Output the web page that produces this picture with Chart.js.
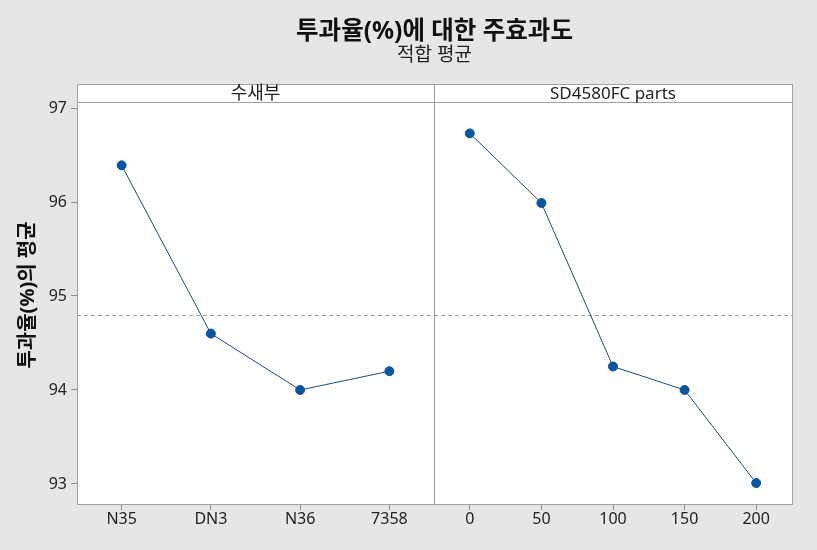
<!DOCTYPE html>
<html>
<head>
<meta charset="utf-8">
<script src="https://cdn.jsdelivr.net/npm/chart.js@4"></script>
<style>
  body { margin: 0; background: #e6e6e6; }
  #wrap { position: relative; width: 817px; height: 550px; }
  #wrap canvas { position: absolute; left: 0; top: 0; }
</style>
</head>
<body>
<div id="wrap">
  <canvas id="leftChart" width="817" height="550"></canvas>
  <canvas id="rightChart" width="817" height="550"></canvas>
</div>
<script>
const mainTitle = "투과율(%)에 대한 주효과도";
const subTitle = "적합 평균";
const yTitle = "투과율(%)의 평균";

const leftName = "수새부";
const leftLabels = ["N35", "DN3", "N36", "7358"];
const leftMeans = [96.39, 94.60, 94.00, 94.20];

const rightName = "SD4580FC parts";
const rightLabels = ["0", "50", "100", "150", "200"];
const rightMeans = [96.73, 95.99, 94.25, 94.00, 93.01];

const yTicks = [93, 94, 95, 96, 97];
const yMin = 92.787;
const yMax = 97.064;

// overall mean (dashed reference line)
const grandMean = leftMeans.reduce((a, b) => a + b, 0) / leftMeans.length;

// layout
const plotLeft = 77, divider = 434, plotRight = 792;
const plotTop = 102, plotBottom = 504, stripTop = 84;
const W = 817, H = 550;

const fontFam = '"Noto Sans", "Noto Sans CJK KR", sans-serif';
const frameColor = '#a0a0a0';
const textColor = '#222';

// white panel, strip header, dashed mean line
function panelPlugin(name, nameSize) {
    return {
        id: 'panel',
        beforeDatasetsDraw(chart) {
            const ctx = chart.ctx;
            const a = chart.chartArea;
            ctx.save();
            ctx.fillStyle = '#fff';
            ctx.fillRect(a.left, stripTop, a.right - a.left, a.bottom - stripTop);
            ctx.strokeStyle = frameColor;
            ctx.lineWidth = 1;
            ctx.strokeRect(a.left + 0.5, stripTop + 0.5, a.right - a.left, a.bottom - stripTop);
            ctx.beginPath();
            ctx.moveTo(a.left, a.top + 0.5);
            ctx.lineTo(a.right, a.top + 0.5);
            ctx.stroke();

            ctx.fillStyle = textColor;
            ctx.font = nameSize + 'px ' + fontFam;
            ctx.textAlign = 'center';
            ctx.textBaseline = 'middle';
            ctx.fillText(name, (a.left + a.right) / 2, (stripTop + a.top) / 2 + 1);

            const y = Math.round(chart.scales.y.getPixelForValue(grandMean)) + 0.5;
            ctx.strokeStyle = '#9a9a9a';
            ctx.setLineDash([4, 3]);
            ctx.beginPath();
            ctx.moveTo(a.left, y);
            ctx.lineTo(a.right, y);
            ctx.stroke();
            ctx.restore();
        }
    };
}

const titlePlugin = {
    id: 'titles',
    afterDraw(chart) {
        const ctx = chart.ctx;
        const cx = (plotLeft + plotRight) / 2;
        ctx.save();
        ctx.fillStyle = '#111';
        ctx.textAlign = 'center';
        ctx.textBaseline = 'middle';
        ctx.font = 'bold 24.5px ' + fontFam;
        ctx.fillText(mainTitle, cx, 32);
        ctx.fillStyle = '#222';
        ctx.font = '19px ' + fontFam;
        ctx.fillText(subTitle, cx, 56);

        ctx.translate(28, 295);
        ctx.rotate(-Math.PI / 2);
        ctx.fillStyle = '#111';
        ctx.font = 'bold 20px ' + fontFam;
        ctx.fillText(yTitle, 0, 0);
        ctx.restore();
    }
};

function makeChart(id, labels, values, name, nameSize, showY, padding) {
    const ctx = document.getElementById(id).getContext('2d');
    return new Chart(ctx, {
        type: 'line',
        data: {
            labels: labels,
            datasets: [{
                data: values,
                borderColor: '#23497f',
                borderWidth: 1,
                backgroundColor: '#0a55a3',
                pointBackgroundColor: '#0a55a3',
                pointBorderColor: '#0a55a3',
                pointRadius: 4.5,
                pointHoverRadius: 4.5,
                tension: 0
            }]
        },
        options: {
            responsive: false,
            animation: false,
            devicePixelRatio: 1,
            layout: { padding: padding },
            plugins: {
                legend: { display: false },
                tooltip: { enabled: false }
            },
            scales: {
                x: {
                    offset: true,
                    grid: { drawOnChartArea: false, drawTicks: true, tickLength: 6, color: '#909090', offset: false },
                    border: { display: false },
                    ticks: { color: textColor, font: { family: fontFam, size: 16 }, padding: 0, maxRotation: 0 },
                    afterFit: s => { s.height = H - plotBottom; }
                },
                y: {
                    display: showY,
                    min: yMin,
                    max: yMax,
                    afterBuildTicks: s => { s.ticks = yTicks.map(v => ({ value: v })); },
                    grid: { drawOnChartArea: false, drawTicks: true, tickLength: 6, color: '#909090' },
                    border: { display: false },
                    ticks: { color: textColor, font: { family: fontFam, size: 16 }, padding: 4 },
                    afterFit: s => { s.width = showY ? plotLeft : 0; }
                }
            }
        },
        plugins: showY ? [panelPlugin(name, nameSize), titlePlugin] : [panelPlugin(name, nameSize)]
    });
}

makeChart('leftChart', leftLabels, leftMeans, leftName, 18, true,
    { left: 0, right: W - divider, top: plotTop, bottom: 0 });
makeChart('rightChart', rightLabels, rightMeans, rightName, 17, false,
    { left: divider, right: W - plotRight, top: plotTop, bottom: 0 });
</script>
</body>
</html>
